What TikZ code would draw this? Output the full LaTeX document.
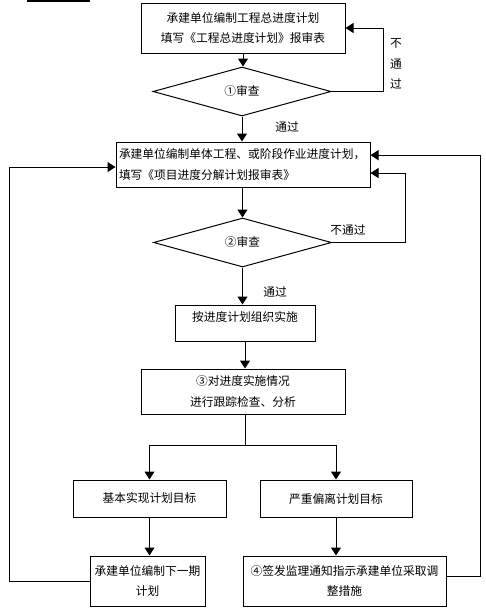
\documentclass[tikz,border=0pt]{standalone}
\usepackage{fontspec}
\newfontfamily\cjk{Noto Sans CJK SC}
\usetikzlibrary{arrows.meta}
\usetikzlibrary{shapes.geometric}

\begin{document}
\begin{tikzpicture}[x=0.75pt,y=-0.75pt,line width=0.75pt,>={Triangle[length=6pt,width=7.5pt]},
	font=\cjk\fontsize{8.8pt}{15.5pt}\selectfont,
	box/.style={draw,inner sep=0pt,align=center},
	check/.style={draw,diamond,inner sep=0pt,minimum width=133.5pt,minimum height=36.75pt},
	lbl/.style={inner sep=0pt,align=center}]
\useasboundingbox (0,0) rectangle (486,615);
\draw[line width=1.5pt] (27,0.8) -- (90,0.8);
% approval of the overall plan
\node[box,minimum width=153pt,minimum height=37.5pt] (plan) at (243,28) {承建单位编制工程总进度计划\\填写《工程总进度计划》报审表};
\node[check] (check1) at (242,91.5) {①审查};
\draw[->] (plan.south) -- (plan.south |- check1.north);
\draw[->] (check1.east) -- ++(52,0) |- (plan.east);
\node[lbl] (fail1) at (396,64) {不\\通\\过};
\node[lbl] (pass1) at (287,127) {通过};
% sub plans
\node[box,minimum width=190.5pt,minimum height=33.75pt,text width=186pt,align=left] (subplan) at (243,164.5) {承建单位编制单体工程、或阶段作业进度计划，\\填写《项目进度分解计划报审表》};
\draw[->] (check1.south) -- (check1.south |- subplan.north);
\node[check] (check2) at (242.5,242.5) {②审查};
\draw[->] (check2.north |- subplan.south) -- (check2.north);
\draw[->] (check2.east) -- ++(73,0) |- ([yshift=-6.4pt]subplan.east);
\node[lbl] (fail2) at (348,230) {不通过};
\node[lbl] (pass2) at (275,292) {通过};
% execution and tracking
\node[box,minimum width=105pt,minimum height=27pt,text height=7pt,text depth=10pt] (impl) at (245,323) {按进度计划组织实施};
\draw[->] (check2.south) -- (check2.south |- impl.north);
\node[box,minimum width=153pt,minimum height=33.75pt] (track) at (243,391.5) {③对进度实施情况\\进行跟踪检查、分析};
\draw[->] (impl.south) -- (impl.south |- track.north);
\node[box,minimum width=114.75pt,minimum height=27.75pt] (ok) at (149.5,498.5) {基本实现计划目标};
\node[box,minimum width=114pt,minimum height=27.75pt] (dev) at (336,498.5) {严重偏离计划目标};
\draw ([xshift=2pt]track.south) -- ++(0,31) coordinate (split);
\draw[->] (split) -| (ok.north);
\draw[->] (split) -| (dev.north);
% follow-up
\node[box,minimum width=86.25pt,minimum height=37.5pt] (next) at (147.5,581) {承建单位编制下一期\\计划};
\node[box,minimum width=152.25pt,minimum height=37.5pt] (adjust) at (344.5,581) {④签发监理通知指示承建单位采取调\\整措施};
\draw[->] (ok.south) -- (ok.south |- next.north);
\draw[->] (dev.south) -- (dev.south |- adjust.north);
\draw[->] (next.west) -- ++(-80,0) |- ([yshift=-1.9pt]subplan.west);
\draw[->] ([yshift=3.75pt]adjust.east) -- ++(34,0) |- ([yshift=7pt]subplan.east);
\end{tikzpicture}
\end{document}
